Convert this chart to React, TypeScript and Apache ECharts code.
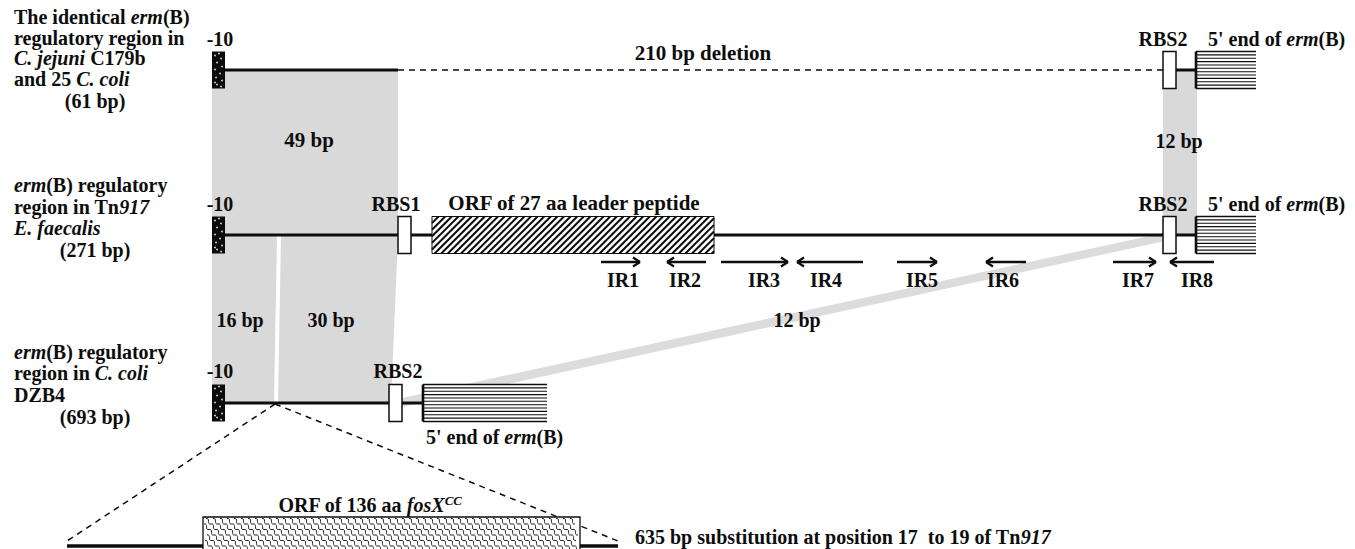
import React, { useEffect, useRef } from "react";
import * as echarts from "echarts";

const W = 1355;
const H = 549;
const FONT = '"Liberation Serif", "Times New Roman", Times, serif';
const INK = "#0d0d0d";

// baselines of the three sequence tracks and of the enlarged insert
const trackY = [70, 235, 403];
const insertY = 546;
const boxHalf = 18.5;

// grey homology blocks
const homologyBlocks = [
  { name: "49 bp", fill: "#d9d9d9", points: [[212, 70], [398, 70], [398, 235], [212, 235]] },
  { name: "12 bp top", fill: "#d9d9d9", points: [[1163, 70], [1197, 70], [1197, 235], [1163, 235]] },
  { name: "16 bp", fill: "#d9d9d9", points: [[212, 235], [277, 235], [274, 403], [212, 403]] },
  { name: "30 bp", fill: "#d9d9d9", points: [[281, 235], [398, 235], [391, 403], [278, 403]] },
  { name: "12 bp band", fill: "#dcdcdc", points: [[1163, 233], [1165, 241], [402, 407], [402, 398]] },
];

// DNA backbone segments [x0, y0, x1, y1, width]
const solidSegments = [
  [225, 70, 398, 70, 3],
  [1176, 70, 1196, 70, 3],
  [225, 235, 1196, 235, 3],
  [225, 403, 423, 403, 3],
  [67, insertY, 203, insertY, 3.5],
  [580, insertY, 618, insertY, 3.5],
];
const dashedSegments = [
  [398, 70, 1163, 70, 1.6],
  [275, 404, 67, 541, 1.5],
  [275, 404, 618, 541, 1.5],
];

// features
const minus10Boxes = [{ x: 212, track: 0 }, { x: 212, track: 1 }, { x: 212, track: 2 }];
const rbsBoxes = [
  { x: 1163, track: 0 },
  { x: 398, track: 1 },
  { x: 1163, track: 1 },
  { x: 389, track: 2 },
];
const ermBoxes = [
  { x0: 1196, x1: 1256, track: 0 },
  { x0: 1196, x1: 1256, track: 1 },
  { x0: 423, x1: 547, track: 2 },
];
const leaderOrfs = [{ x0: 432, x1: 714, track: 1 }];
const fosXOrfs = [{ x0: 203, x1: 580, y0: 517, y1: 580 }];

// inverted repeats
const irY = 262;
const invertedRepeats = [
  { name: "IR1", x0: 601, x1: 640, dir: 1, lx: 623 },
  { name: "IR2", x0: 667, x1: 706, dir: -1, lx: 685 },
  { name: "IR3", x0: 721, x1: 788, dir: 1, lx: 764 },
  { name: "IR4", x0: 797, x1: 863, dir: -1, lx: 826 },
  { name: "IR5", x0: 897, x1: 937, dir: 1, lx: 922 },
  { name: "IR6", x0: 986, x1: 1026, dir: -1, lx: 1003 },
  { name: "IR7", x0: 1113, x1: 1156, dir: 1, lx: 1138 },
  { name: "IR8", x0: 1170, x1: 1214, dir: -1, lx: 1197 },
];

// texts
const trackTitles = [
  { text: "The identical {i|erm}(B)", x: 14, y: 17, align: "left" },
  { text: "regulatory region in", x: 14, y: 38, align: "left" },
  { text: "{i|C. jejuni} C179b", x: 14, y: 58, align: "left" },
  { text: "and 25 {i|C. coli}", x: 14, y: 79, align: "left" },
  { text: "(61 bp)", x: 95, y: 101, align: "center" },
  { text: "{i|erm}(B) regulatory", x: 14, y: 185, align: "left" },
  { text: "region in Tn{i|917}", x: 14, y: 207, align: "left" },
  { text: "{i|E. faecalis}", x: 14, y: 228, align: "left" },
  { text: "(271 bp)", x: 95, y: 250, align: "center" },
  { text: "{i|erm}(B) regulatory", x: 14, y: 352, align: "left" },
  { text: "region in {i|C. coli}", x: 14, y: 373, align: "left" },
  { text: "DZB4", x: 14, y: 395, align: "left" },
  { text: "(693 bp)", x: 95, y: 417, align: "center" },
];
const featureLabels = [
  { text: "-10", x: 220, y: 39, align: "center" },
  { text: "-10", x: 220, y: 204, align: "center" },
  { text: "-10", x: 220, y: 371, align: "center" },
  { text: "210 bp deletion", x: 703, y: 53, align: "center", size: 21 },
  { text: "RBS2", x: 1163, y: 39, align: "center" },
  { text: "RBS1", x: 396, y: 204, align: "center" },
  { text: "RBS2", x: 1163, y: 204, align: "center" },
  { text: "RBS2", x: 398, y: 371, align: "center" },
  { text: "5' end of {i|erm}(B)", x: 1208, y: 39, align: "left" },
  { text: "5' end of {i|erm}(B)", x: 1208, y: 204, align: "left" },
  { text: "5' end of {i|erm}(B)", x: 426, y: 437, align: "left" },
  { text: "ORF of 27 aa leader peptide", x: 574, y: 203, align: "center", size: 21 },
  { text: "49 bp", x: 309, y: 140, align: "center", size: 21 },
  { text: "12 bp", x: 1179, y: 141, align: "center" },
  { text: "16 bp", x: 240, y: 320, align: "center" },
  { text: "30 bp", x: 331, y: 320, align: "center" },
  { text: "12 bp", x: 797, y: 320, align: "center" },
  { text: "ORF of 136 aa {i|fosX}{sup|CC}", x: 370, y: 505, align: "center" },
  { text: "635 bp substitution at position 17  to 19 of Tn{i|917}", x: 635, y: 537, align: "left" },
];
const irLabels = invertedRepeats.map((r) => ({ text: r.name, x: r.lx, y: irY + 18, align: "center" }));

const minus10Dots = [
  [3, 4], [9, 7], [5, 11], [10, 15], [3, 18], [8, 22], [4, 26], [10, 29], [5, 33], [9, 35], [3, 31], [7, 2],
];

function layer(name: string, items: any[], z: number, draw: (it: any, P: (x: number, y: number) => number[]) => any) {
  return {
    type: "custom",
    name,
    z,
    silent: true,
    clip: false,
    coordinateSystem: "cartesian2d",
    data: items.map(() => [0, 0]),
    renderItem: (params: any, api: any) => {
      const P = (x: number, y: number) => api.coord([x, y]);
      return draw(items[params.dataIndex], P);
    },
  };
}

function line(a: number[], b: number[], w: number, dash?: number[], color?: string) {
  return {
    type: "line",
    shape: { x1: a[0], y1: a[1], x2: b[0], y2: b[1] },
    style: { stroke: color || INK, lineWidth: w, lineDash: dash || null, fill: null },
  };
}

function makeRich(size: number) {
  return {
    i: { fontFamily: FONT, fontSize: size, fontWeight: "bold", fontStyle: "italic", fill: INK },
    sup: { fontFamily: FONT, fontSize: 13, fontWeight: "bold", fontStyle: "italic", fill: INK, verticalAlign: "top", padding: [0, 0, 10, 0] },
  };
}

function textEl(t: any, P: any) {
  const p = P(t.x, t.y);
  const size = t.size || 20;
  return {
    type: "text",
    x: p[0],
    y: p[1],
    style: {
      text: t.text,
      fill: INK,
      fontFamily: FONT,
      fontSize: size,
      fontWeight: "bold",
      align: t.align,
      verticalAlign: "middle",
      rich: makeRich(size),
    },
  };
}

function buildOption() {
  const series: any[] = [];

  series.push(
    layer("homology", homologyBlocks, 1, (b, P) => ({
      type: "polygon",
      shape: { points: b.points.map((p: number[]) => P(p[0], p[1])) },
      style: { fill: b.fill },
    }))
  );

  series.push(layer("backbone", solidSegments, 2, (s, P) => line(P(s[0], s[1]), P(s[2], s[3]), s[4])));
  series.push(layer("gaps", dashedSegments, 2, (s, P) => line(P(s[0], s[1]), P(s[2], s[3]), s[4], [6, 5])));

  series.push(
    layer("minus10", minus10Boxes, 3, (b, P) => {
      const y = trackY[b.track];
      const tl = P(b.x, y - boxHalf);
      const br = P(b.x + 13, y + boxHalf);
      const children: any[] = [
        { type: "rect", shape: { x: tl[0], y: tl[1], width: br[0] - tl[0], height: br[1] - tl[1] }, style: { fill: "#0a0a0a" } },
      ];
      minus10Dots.forEach((d) => {
        const c = P(b.x + d[0], y - boxHalf + d[1]);
        children.push({ type: "circle", shape: { cx: c[0], cy: c[1], r: 0.8 }, style: { fill: "#eee" } });
      });
      return { type: "group", children };
    })
  );

  series.push(
    layer("rbs", rbsBoxes, 3, (b, P) => {
      const y = trackY[b.track];
      const tl = P(b.x, y - boxHalf);
      const br = P(b.x + 13, y + boxHalf);
      return {
        type: "rect",
        shape: { x: tl[0], y: tl[1], width: br[0] - tl[0], height: br[1] - tl[1] },
        style: { fill: "#fff", stroke: INK, lineWidth: 1.5 },
      };
    })
  );

  series.push(
    layer("erm", ermBoxes, 3, (b, P) => {
      const y = trackY[b.track];
      const y0 = y - boxHalf;
      const y1 = y + boxHalf;
      const tl = P(b.x0, y0);
      const br = P(b.x1, y1);
      const children: any[] = [
        { type: "rect", shape: { x: tl[0], y: tl[1], width: br[0] - tl[0], height: br[1] - tl[1] }, style: { fill: "#fff" } },
      ];
      const n = 12;
      for (let k = 0; k < n; k++) {
        const yy = y0 + ((y1 - y0) * k) / (n - 1);
        children.push(line(P(b.x0, yy), P(b.x1, yy), k === 0 || k === n - 1 ? 1.6 : 1.1));
      }
      children.push(line(P(b.x0, y0), P(b.x0, y1), 2.6));
      return { type: "group", children };
    })
  );

  series.push(
    layer("leader", leaderOrfs, 3, (b, P) => {
      const y = trackY[b.track];
      const y0 = y - boxHalf;
      const y1 = y + boxHalf;
      const h = y1 - y0;
      const tl = P(b.x0, y0);
      const br = P(b.x1, y1);
      const children: any[] = [
        { type: "rect", shape: { x: tl[0], y: tl[1], width: br[0] - tl[0], height: br[1] - tl[1] }, style: { fill: "#fff" } },
      ];
      for (let c = b.x0 - h; c < b.x1; c += 6.6) {
        const tmin = Math.max(0, (b.x0 - c) / h);
        const tmax = Math.min(1, (b.x1 - c) / h);
        if (tmax <= tmin) continue;
        children.push(line(P(c + tmin * h, y1 - tmin * h), P(c + tmax * h, y1 - tmax * h), 2));
      }
      children.push({
        type: "rect",
        shape: { x: tl[0], y: tl[1], width: br[0] - tl[0], height: br[1] - tl[1] },
        style: { fill: null, stroke: INK, lineWidth: 1 },
      });
      return { type: "group", children };
    })
  );

  series.push(
    layer("fosX", fosXOrfs, 3, (b, P) => {
      const tl = P(b.x0, b.y0);
      const br = P(b.x1, b.y1);
      const children: any[] = [
        { type: "rect", shape: { x: tl[0], y: tl[1], width: br[0] - tl[0], height: br[1] - tl[1] }, style: { fill: "#fff" } },
      ];
      const sx = 5;
      const sy = 5.5;
      for (let start = b.x0 - 60; start < b.x1; start += 7) {
        for (let k = 0; k < 12; k++) {
          const x = start + k * sx;
          const y = b.y0 + 1.5 + k * sy;
          if (x < b.x0 + 0.5 || x + sx > b.x1 - 0.5 || y + sy > b.y1) continue;
          const a = P(x, y);
          const e = P(x + sx, y + sy);
          const c1 = P(x + 4.8, y - 1);
          const c2 = P(x + 0.2, y + sy + 1);
          children.push({
            type: "bezierCurve",
            shape: { x1: a[0], y1: a[1], x2: e[0], y2: e[1], cpx1: c1[0], cpy1: c1[1], cpx2: c2[0], cpy2: c2[1] },
            style: { stroke: "#222", lineWidth: 1, fill: null },
          });
        }
      }
      children.push({
        type: "rect",
        shape: { x: tl[0], y: tl[1], width: br[0] - tl[0], height: br[1] - tl[1] },
        style: { fill: null, stroke: INK, lineWidth: 1.3 },
      });
      return { type: "group", children };
    })
  );

  series.push(
    layer("repeats", invertedRepeats, 3, (r, P) => {
      const tipX = r.dir > 0 ? r.x1 : r.x0;
      const tip = P(tipX, irY);
      const b1 = P(tipX - r.dir * 7, irY - 4.5);
      const b2 = P(tipX - r.dir * 7, irY + 4.5);
      return {
        type: "group",
        children: [line(P(r.x0, irY), P(r.x1, irY), 2.4), line(tip, b1, 2.2), line(tip, b2, 2.2)],
      };
    })
  );

  series.push(layer("titles", trackTitles, 4, textEl));
  series.push(layer("labels", featureLabels, 4, textEl));
  series.push(layer("irLabels", irLabels, 4, textEl));

  return {
    animation: false,
    backgroundColor: "#fff",
    grid: { left: 0, right: 0, top: 0, bottom: 0 },
    xAxis: { type: "value", min: 0, max: W, show: false },
    yAxis: { type: "value", min: 0, max: H, inverse: true, show: false },
    series,
  };
}

export default function App() {
  const ref = useRef<HTMLDivElement>(null);
  useEffect(() => {
    document.body.style.margin = "0";
    if (!ref.current) return;
    const chart = echarts.init(ref.current, null, { renderer: "svg" });
    chart.setOption(buildOption() as any);
    return () => chart.dispose();
  }, []);
  return <div ref={ref} style={{ width: W, height: H }} />;
}
